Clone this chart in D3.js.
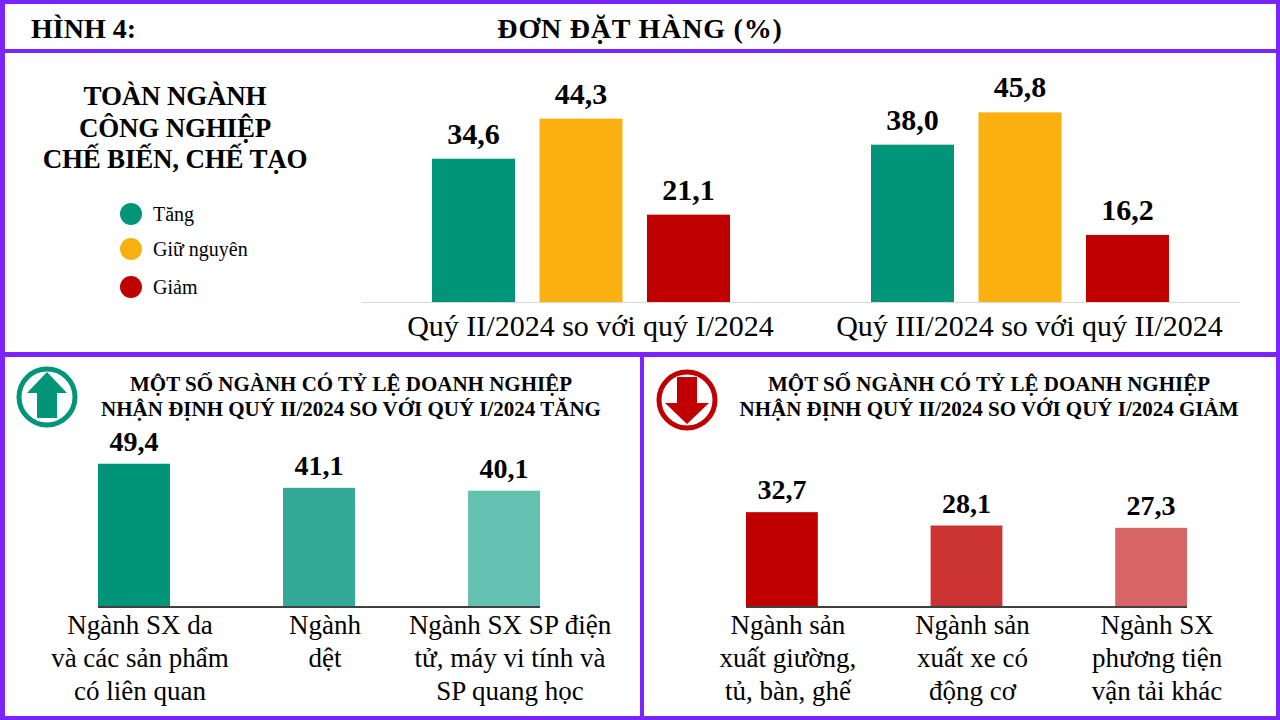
<!DOCTYPE html>
<html>
<head>
<meta charset="utf-8">
<script src="https://cdn.jsdelivr.net/npm/d3@7"></script>
<style>
  body { margin: 0; background: #fff; }
  svg text { font-family: 'Liberation Serif', 'Times New Roman', serif; }
</style>
</head>
<body>
<div id="chart"></div>
<script>
// data
const topGroups = ['Quý II/2024 so với quý I/2024', 'Quý III/2024 so với quý II/2024'];
const topSeries = ['Tăng', 'Giữ nguyên', 'Giảm'];
const topValues = [
  [34.6, 44.3, 21.1],
  [38.0, 45.8, 16.2]
];
const upSectors = [
  ['Ngành SX da', 'và các sản phẩm', 'có liên quan'],
  ['Ngành', 'dệt'],
  ['Ngành SX SP điện', 'tử, máy vi tính và', 'SP quang học']
];
const upValues = [49.4, 41.1, 40.1];
const downSectors = [
  ['Ngành sản', 'xuất giường,', 'tủ, bàn, ghế'],
  ['Ngành sản', 'xuất xe có', 'động cơ'],
  ['Ngành SX', 'phương tiện', 'vận tải khác']
];
const downValues = [32.7, 28.1, 27.3];

const seriesColors = ['#009479', '#f9b010', '#c00000'];
const upColors = ['#009479', '#34a997', '#64c0b1'];
const downColors = ['#c00000', '#cc3333', '#d96666'];
const purple = '#7b24ff';

const nfc = (s) => String(s).normalize('NFC');
const fmt = (v) => v.toFixed(1).replace('.', ',');

const width = 1280;
const height = 720;

const svg = d3.select('#chart')
  .append('svg')
  .attr('width', width)
  .attr('height', height);

// frame
svg.append('rect').attr('width', width).attr('height', height).attr('fill', '#fff');
const frame = svg.append('g').attr('fill', purple);
frame.append('rect').attr('x', 0).attr('y', 0).attr('width', width).attr('height', 4);
frame.append('rect').attr('x', 0).attr('y', 716).attr('width', width).attr('height', 4);
frame.append('rect').attr('x', 0).attr('y', 0).attr('width', 5).attr('height', height);
frame.append('rect').attr('x', 1276).attr('y', 0).attr('width', 4).attr('height', height);
frame.append('rect').attr('x', 0).attr('y', 49).attr('width', width).attr('height', 4);
frame.append('rect').attr('x', 0).attr('y', 352).attr('width', width).attr('height', 5);
frame.append('rect').attr('x', 640).attr('y', 352).attr('width', 4).attr('height', 368);

// header
svg.append('text').attr('x', 31).attr('y', 38)
  .attr('font-size', 28).attr('font-weight', 'bold').text(nfc('HÌNH 4:'));
svg.append('text').attr('x', 640).attr('y', 38).attr('text-anchor', 'middle')
  .attr('font-size', 28).attr('font-weight', 'bold').attr('letter-spacing', 0.8)
  .text(nfc('ĐƠN ĐẶT HÀNG (%)'));

// ---- top panel ----
const titleTop = ['TOÀN NGÀNH', 'CÔNG NGHIỆP', 'CHẾ BIẾN, CHẾ TẠO'];
svg.append('g').selectAll('text')
  .data(titleTop)
  .join('text')
  .attr('x', 175)
  .attr('y', (d, i) => 105 + i * 31.5)
  .attr('text-anchor', 'middle')
  .attr('font-size', 27)
  .attr('font-weight', 'bold')
  .attr('letter-spacing', -0.2)
  .text((d) => nfc(d));

const legend = svg.append('g').selectAll('g')
  .data(topSeries)
  .join('g')
  .attr('transform', (d, i) => `translate(131, ${[214, 249, 287][i]})`);
legend.append('circle').attr('r', 11).attr('fill', (d, i) => seriesColors[i]);
legend.append('text').attr('x', 22).attr('y', 7)
  .attr('font-size', 20).text((d) => nfc(d));

const xTop = d3.scaleBand().domain(topGroups).range([362, 1240]);
const xTopInner = d3.scaleBand().domain(topSeries).range([70, 368]).paddingInner(0.228);
const yTop = d3.scaleLinear().domain([0, 50]).range([302, 95]);

svg.append('line')
  .attr('x1', 362).attr('x2', 1240).attr('y1', 302.5).attr('y2', 302.5)
  .attr('stroke', '#d9d9d9').attr('stroke-width', 1);

const topData = topGroups.flatMap((g, gi) =>
  topSeries.map((s, si) => ({ group: g, series: s, si, value: topValues[gi][si] })));

const topBars = svg.append('g');
topBars.selectAll('rect')
  .data(topData)
  .join('rect')
  .attr('x', (d) => xTop(d.group) + xTopInner(d.series))
  .attr('y', (d) => yTop(d.value))
  .attr('width', xTopInner.bandwidth())
  .attr('height', (d) => yTop(0) - yTop(d.value))
  .attr('fill', (d) => seriesColors[d.si]);

topBars.selectAll('text')
  .data(topData)
  .join('text')
  .attr('x', (d) => xTop(d.group) + xTopInner(d.series) + xTopInner.bandwidth() / 2)
  .attr('y', (d) => yTop(d.value) - 15)
  .attr('text-anchor', 'middle')
  .attr('font-size', 30)
  .attr('font-weight', 'bold')
  .text((d) => fmt(d.value));

svg.append('g').selectAll('text')
  .data(topGroups)
  .join('text')
  .attr('x', (d) => xTop(d) + xTop.bandwidth() / 2 + 9)
  .attr('y', 336)
  .attr('text-anchor', 'middle')
  .attr('font-size', 30)
  .text((d) => nfc(d));

// ---- bottom panels ----
const yBottom = d3.scaleLinear().domain([0, 50]).range([607, 462]);

function drawPanel(opts) {
  const { sectors, values, colors, range, titleLines, titleX } = opts;
  const g = svg.append('g');

  g.selectAll('text.title')
    .data(titleLines)
    .join('text')
    .attr('class', 'title')
    .attr('x', titleX)
    .attr('y', (d, i) => 391 + i * 25)
    .attr('text-anchor', 'middle')
    .attr('font-size', 21)
    .attr('font-weight', 'bold')
    .text((d) => nfc(d));

  const x = d3.scaleBand().domain(d3.range(sectors.length)).range(range).paddingInner(0.611);

  g.selectAll('rect')
    .data(values)
    .join('rect')
    .attr('x', (d, i) => x(i))
    .attr('y', (d) => yBottom(d))
    .attr('width', x.bandwidth())
    .attr('height', (d) => yBottom(0) - yBottom(d))
    .attr('fill', (d, i) => colors[i]);

  g.append('line')
    .attr('x1', range[0]).attr('x2', range[1])
    .attr('y1', yBottom(0)).attr('y2', yBottom(0))
    .attr('stroke', '#404040').attr('stroke-width', 2);

  g.selectAll('text.value')
    .data(values)
    .join('text')
    .attr('class', 'value')
    .attr('x', (d, i) => x(i) + x.bandwidth() / 2)
    .attr('y', (d) => yBottom(d) - 13)
    .attr('text-anchor', 'middle')
    .attr('font-size', 28)
    .attr('font-weight', 'bold')
    .text((d) => fmt(d));

  g.selectAll('text.cat')
    .data(sectors)
    .join('text')
    .attr('class', 'cat')
    .attr('text-anchor', 'middle')
    .attr('font-size', 27)
    .each(function (lines, i) {
      d3.select(this).selectAll('tspan')
        .data(lines)
        .join('tspan')
        .attr('x', x(i) + x.bandwidth() / 2 + 6)
        .attr('y', (d, j) => 634 + j * 33)
        .text((d) => nfc(d));
    });
}

drawPanel({
  sectors: upSectors,
  values: upValues,
  colors: upColors,
  range: [98, 540],
  titleLines: ['MỘT SỐ NGÀNH CÓ TỶ LỆ DOANH NGHIỆP', 'NHẬN ĐỊNH QUÝ II/2024 SO VỚI QUÝ I/2024 TĂNG'],
  titleX: 351
});

drawPanel({
  sectors: downSectors,
  values: downValues,
  colors: downColors,
  range: [746, 1187],
  titleLines: ['MỘT SỐ NGÀNH CÓ TỶ LỆ DOANH NGHIỆP', 'NHẬN ĐỊNH QUÝ II/2024 SO VỚI QUÝ I/2024 GIẢM'],
  titleX: 989
});

// icons
const up = svg.append('g').attr('transform', 'translate(47, 397)');
up.append('circle').attr('r', 28).attr('fill', '#fff').attr('stroke', '#009479').attr('stroke-width', 5);
up.append('path')
  .attr('d', 'M0,-25 L20,-4 L10,-4 L10,21 L-10,21 L-10,-4 L-20,-4 Z')
  .attr('fill', '#009479');

const down = svg.append('g').attr('transform', 'translate(687, 400)');
down.append('circle').attr('r', 28).attr('fill', '#fff').attr('stroke', '#c00000').attr('stroke-width', 5);
down.append('path')
  .attr('d', 'M0,24 L22,3 L10,3 L10,-23 L-10,-23 L-10,3 L-22,3 Z')
  .attr('fill', '#c00000');
</script>
</body>
</html>
